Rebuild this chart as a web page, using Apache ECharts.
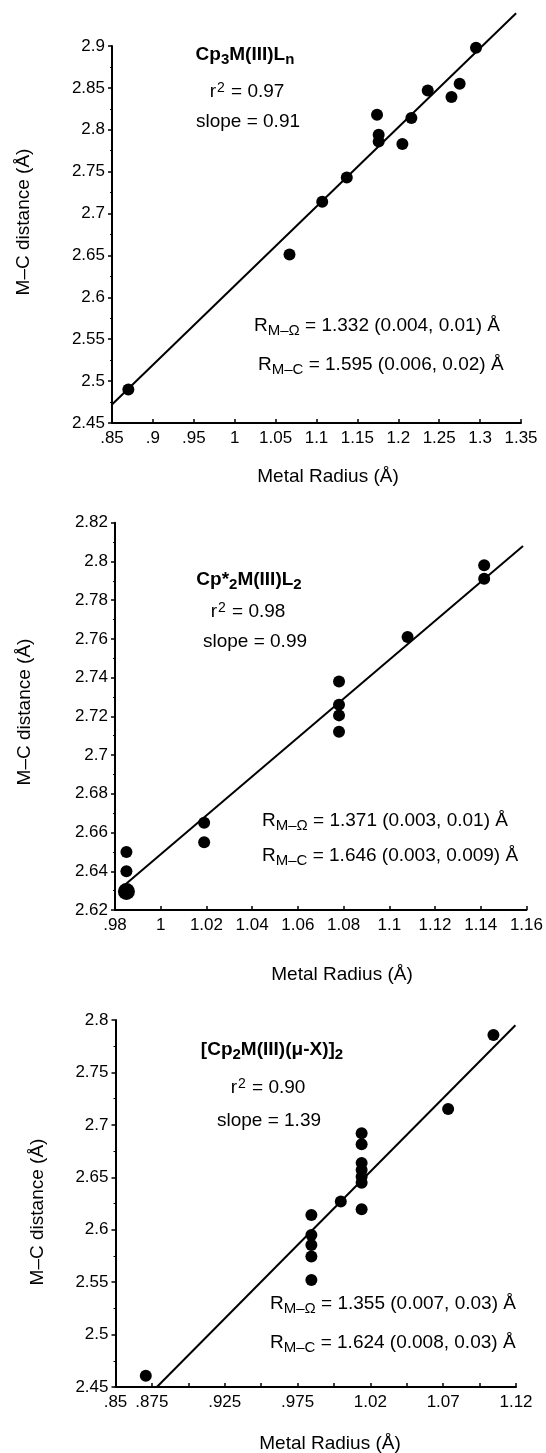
<!DOCTYPE html>
<html>
<head>
<meta charset="utf-8">
<script src="https://cdn.jsdelivr.net/npm/echarts@6/dist/echarts.min.js"></script>
<style>
html,body{margin:0;padding:0;background:#fff;}
#c{width:546px;height:1453px;}
</style>
</head>
<body>
<div id="c"></div>
<script>
// ---------- Panel 1 : Cp3M(III)Ln ----------
const radius1 = [1.295, 1.275, 1.265, 1.236, 1.216, 1.205, 1.174, 1.176, 1.176, 1.137, 1.107, 1.067, 0.870];
const dist1   = [2.898, 2.855, 2.839, 2.847, 2.814, 2.783, 2.818, 2.794, 2.786, 2.743, 2.714, 2.651, 2.490];
const fitX1 = [0.85, 1.344];
const fitY1 = [2.472, 2.939];
const xTickLabels1 = ['.85', '.9', '.95', '1', '1.05', '1.1', '1.15', '1.2', '1.25', '1.3', '1.35'];
const yTickLabels1 = ['2.45', '2.5', '2.55', '2.6', '2.65', '2.7', '2.75', '2.8', '2.85', '2.9'];

// ---------- Panel 2 : Cp*2M(III)L2 ----------
const radius2 = [1.1415, 1.1415, 1.108, 1.078, 1.078, 1.078, 1.078, 1.019, 1.019, 0.985, 0.985];
const dist2   = [2.798, 2.791, 2.761, 2.738, 2.726, 2.7205, 2.712, 2.665, 2.655, 2.650, 2.640];
const radius2Overlap = [0.985];
const dist2Overlap   = [2.6295];
const fitX2 = [0.9823, 1.1585];
const fitY2 = [2.631, 2.808];
const xTickLabels2 = ['.98', '1', '1.02', '1.04', '1.06', '1.08', '1.1', '1.12', '1.14', '1.16'];
const yTickLabels2 = ['2.62', '2.64', '2.66', '2.68', '2.7', '2.72', '2.74', '2.76', '2.78', '2.8', '2.82'];

// ---------- Panel 3 : [Cp2M(III)(mu-X)]2 ----------
const radius3 = [1.1095, 1.0784, 1.019, 1.019, 1.019, 1.019, 1.019, 1.019, 1.019, 1.0047, 0.9845, 0.9845, 0.9845, 0.9845, 0.9845, 0.8708];
const dist3   = [2.7857, 2.7152, 2.692, 2.6816, 2.6637, 2.657, 2.6504, 2.6447, 2.6195, 2.6269, 2.614, 2.595, 2.5855, 2.5745, 2.552, 2.4608];
const fitX3 = [0.8784, 1.1246];
const fitY3 = [2.45, 2.795];
const xTickLabels3 = ['.85', '.875', '', '.925', '', '.975', '', '1.02', '', '1.07', '', '1.12'];
const yTickLabels3 = ['2.45', '2.5', '2.55', '2.6', '2.65', '2.7', '2.75', '2.8'];

const FONT = '"Liberation Sans", Arial, Helvetica, sans-serif';
const zip = (a, b) => a.map((v, i) => [v, b[i]]);

const chart = echarts.init(document.getElementById('c'), null, {renderer: 'canvas'});

const grids = [
  {left: 112, top: 46, width: 409, height: 377},
  {left: 115, top: 522.7, width: 415, height: 387.3},
  {left: 115.5, top: 1020, width: 400.5, height: 367}
];

function xAxis(gi, min, max, interval, labels) {
  return {
    type: 'value', gridIndex: gi, min: min, max: max, interval: interval,
    axisLine: {show: true, onZero: false, lineStyle: {color: '#000', width: 2}},
    axisTick: {show: true, inside: true, length: 4, lineStyle: {color: '#000', width: 1.5}},
    axisLabel: {show: true, margin: 7, color: '#000', fontSize: 17, fontFamily: FONT,
      formatter: (v, i) => labels[i] !== undefined ? labels[i] : ''},
    splitLine: {show: false}
  };
}
function yAxis(gi, min, max, interval, labels) {
  return {
    type: 'value', gridIndex: gi, min: min, max: max, interval: interval,
    axisLine: {show: true, onZero: false, lineStyle: {color: '#000', width: 2}},
    axisTick: {show: true, inside: false, length: 4, lineStyle: {color: '#000', width: 1.5}},
    minorTick: {show: true, splitNumber: 2, length: 2, lineStyle: {color: '#000', width: 1}},
    axisLabel: {show: true, margin: 7, color: '#000', fontSize: 17, fontFamily: FONT,
      formatter: (v, i) => labels[i] !== undefined ? labels[i] : ''},
    splitLine: {show: false}
  };
}

function scatter(gi, xs, ys, size) {
  return {type: 'scatter', xAxisIndex: gi, yAxisIndex: gi, data: zip(xs, ys),
    symbol: 'circle', symbolSize: size, itemStyle: {color: '#000', opacity: 1}, silent: true, z: 3};
}
function fit(gi, xs, ys) {
  return {type: 'line', xAxisIndex: gi, yAxisIndex: gi, data: zip(xs, ys),
    showSymbol: false, symbol: 'none', clip: false, lineStyle: {color: '#000', width: 2}, silent: true, z: 2};
}

function T(x, y, text, rich, align, rot) {
  return {type: 'text', x: x, y: y, rotation: rot || 0, silent: true,
    style: {text: text, rich: rich, align: align || 'left', verticalAlign: 'middle',
      textAlign: align || 'left', textVerticalAlign: 'middle',
      font: '19px ' + FONT, fill: '#000'}};
}

const richTitle = {
  b: {fontSize: 19, fontWeight: 'bold', fontFamily: FONT, fill: '#000', color: '#000', lineHeight: 22},
  s: {fontSize: 15, fontWeight: 'bold', fontFamily: FONT, fill: '#000', color: '#000', lineHeight: 22, padding: [9, 0, 0, 0]}
};
const richR = {
  n: {fontSize: 19, fontFamily: FONT, fill: '#000', color: '#000', lineHeight: 22},
  s: {fontSize: 15, fontFamily: FONT, fill: '#000', color: '#000', lineHeight: 22, padding: [10, 0, 0, 0]}
};
const richN = {
  n: {fontSize: 19, fontFamily: FONT, fill: '#000', color: '#000', lineHeight: 22},
  p: {fontSize: 14, fontFamily: FONT, fill: '#000', color: '#000', lineHeight: 22, padding: [0, 1, 8, 1]}
};

const graphics = [
  // Panel 1
  T(245, 55, '{b|Cp}{s|3}{b|M(III)L}{s|n}', richTitle, 'center'),
  T(247, 92, '{n|r}{p|2}{n| = 0.97}', richN, 'center'),
  T(248, 122, '{n|slope = 0.91}', richN, 'center'),
  T(254, 326, '{n|R}{s|M–Ω}{n| = 1.332 (0.004, 0.01) Å}', richR, 'left'),
  T(258, 365, '{n|R}{s|M–C}{n| = 1.595 (0.006, 0.02) Å}', richR, 'left'),
  T(328, 477, '{n|Metal Radius (Å)}', richN, 'center'),
  T(24, 222, '{n|M–C distance (Å)}', richN, 'center', Math.PI / 2),
  // Panel 2
  T(249, 580, '{b|Cp*}{s|2}{b|M(III)L}{s|2}', richTitle, 'center'),
  T(248, 612, '{n|r}{p|2}{n| = 0.98}', richN, 'center'),
  T(255, 642, '{n|slope = 0.99}', richN, 'center'),
  T(262, 821, '{n|R}{s|M–Ω}{n| = 1.371 (0.003, 0.01) Å}', richR, 'left'),
  T(262, 856, '{n|R}{s|M–C}{n| = 1.646 (0.003, 0.009) Å}', richR, 'left'),
  T(342, 975, '{n|Metal Radius (Å)}', richN, 'center'),
  T(25, 712, '{n|M–C distance (Å)}', richN, 'center', Math.PI / 2),
  // Panel 3
  T(272, 1050, '{b|[Cp}{s|2}{b|M(III)(μ-X)]}{s|2}', richTitle, 'center'),
  T(268, 1088, '{n|r}{p|2}{n| = 0.90}', richN, 'center'),
  T(269, 1121, '{n|slope = 1.39}', richN, 'center'),
  T(270, 1304, '{n|R}{s|M–Ω}{n| = 1.355 (0.007, 0.03) Å}', richR, 'left'),
  T(270, 1343, '{n|R}{s|M–C}{n| = 1.624 (0.008, 0.03) Å}', richR, 'left'),
  T(330, 1444, '{n|Metal Radius (Å)}', richN, 'center'),
  T(38, 1212, '{n|M–C distance (Å)}', richN, 'center', Math.PI / 2)
];

chart.setOption({
  animation: false,
  backgroundColor: '#fff',
  grid: grids,
  xAxis: [
    xAxis(0, 0.85, 1.35, 0.05, xTickLabels1),
    xAxis(1, 0.98, 1.16, 0.02, xTickLabels2),
    xAxis(2, 0.85, 1.125, 0.025, xTickLabels3)
  ],
  yAxis: [
    yAxis(0, 2.45, 2.9, 0.05, yTickLabels1),
    yAxis(1, 2.62, 2.82, 0.02, yTickLabels2),
    yAxis(2, 2.45, 2.8, 0.05, yTickLabels3)
  ],
  series: [
    fit(0, fitX1, fitY1),
    scatter(0, radius1, dist1, 12),
    fit(1, fitX2, fitY2),
    scatter(1, radius2, dist2, 12),
    scatter(1, radius2Overlap, dist2Overlap, 17),
    fit(2, fitX3, fitY3),
    scatter(2, radius3, dist3, 12)
  ],
  graphic: graphics
});
</script>
</body>
</html>
